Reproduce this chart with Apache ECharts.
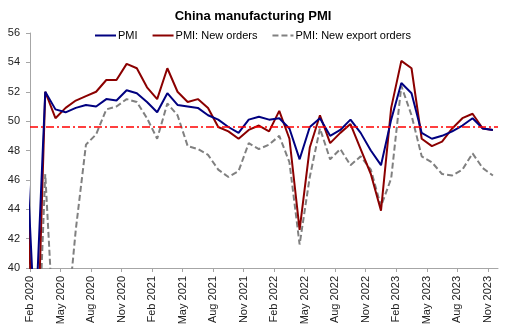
<!DOCTYPE html>
<html><head><meta charset="utf-8">
<script src="https://cdn.jsdelivr.net/npm/echarts@6/dist/echarts.min.js"></script>
<style>html,body{margin:0;padding:0;background:#fff}#c{width:506px;height:334px}</style>
</head><body><div id="c"></div>
<script>
// Months from Jan 2020 to Nov 2023 (Jan 2020 lies just left of the plotted range and is clipped)
const months = ['Jan 2020','Feb 2020','Mar 2020','Apr 2020','May 2020','Jun 2020','Jul 2020','Aug 2020','Sep 2020','Oct 2020','Nov 2020','Dec 2020',
'Jan 2021','Feb 2021','Mar 2021','Apr 2021','May 2021','Jun 2021','Jul 2021','Aug 2021','Sep 2021','Oct 2021','Nov 2021','Dec 2021',
'Jan 2022','Feb 2022','Mar 2022','Apr 2022','May 2022','Jun 2022','Jul 2022','Aug 2022','Sep 2022','Oct 2022','Nov 2022','Dec 2022',
'Jan 2023','Feb 2023','Mar 2023','Apr 2023','May 2023','Jun 2023','Jul 2023','Aug 2023','Sep 2023','Oct 2023','Nov 2023'];
const pmi = [50.0,35.7,52.0,50.8,50.6,50.9,51.1,51.0,51.5,51.4,52.1,51.9,
51.3,50.6,51.9,51.1,51.0,50.9,50.4,50.1,49.6,49.2,50.1,50.3,
50.1,50.2,49.5,47.4,49.6,50.2,49.0,49.4,50.1,49.2,48.0,47.0,
50.1,52.6,51.9,49.2,48.8,49.0,49.3,49.7,50.2,49.5,49.4];
const newOrders = [51.4,29.3,52.0,50.2,50.9,51.4,51.7,52.0,52.8,52.8,53.9,53.6,
52.3,51.5,53.6,52.0,51.3,51.5,50.9,49.6,49.3,48.8,49.4,49.7,
49.3,50.7,48.8,42.6,48.2,50.4,48.5,49.2,49.8,48.1,46.4,43.9,
50.9,54.1,53.6,48.8,48.3,48.6,49.5,50.2,50.5,49.5,49.4];
const exportOrders = [48.7,28.7,46.4,33.5,35.3,42.6,48.4,49.1,50.8,51.0,51.5,51.3,
50.2,48.8,51.2,50.4,48.3,48.1,47.7,46.7,46.2,46.6,48.5,48.1,
48.4,49.0,47.2,41.6,46.2,49.5,47.4,48.1,47.0,47.6,46.7,44.2,
46.1,52.4,50.4,47.6,47.2,46.4,46.3,46.7,47.8,46.8,46.3];
const refLevel = 49.65;
const yTicks = [40,42,44,46,48,50,52,54,56];
const firstLabelIdx = 1; // Feb 2020
const labelStep = 3;

// x position: month offset from Feb 2020 start, points at mid-month
const toPts = arr => arr.map((v, i) => [i - firstLabelIdx + 0.5, v]);
const nPlot = months.length - firstLabelIdx;
const tickVals = [];
for (let k = 0; k < nPlot; k += labelStep) tickVals.push(k);

const chart = echarts.init(document.getElementById('c'), null, {renderer: 'canvas'});
const font = 'Arial, "Liberation Sans", sans-serif';
chart.setOption({
  animation: false,
  title: {text: 'China manufacturing PMI', left: 'center', top: 5,
    textStyle: {fontFamily: font, fontSize: 13, fontWeight: 'bold', color: '#000'}},
  legend: {top: 25, left: 'center', itemWidth: 21, itemHeight: 2, itemGap: 15,
    textStyle: {fontFamily: font, fontSize: 11, color: '#000', padding: [0,0,0,-3]},
    data: [
      {name: 'PMI', icon: 'rect'},
      {name: 'PMI: New orders', icon: 'rect'},
      {name: 'PMI: New export orders', icon: 'path://M0,0h6v2h-6z M9,0h6v2h-6z M18,0h3v2h-3z'}
    ]},
  grid: {left: 30, right: 8, top: 33, bottom: 66},
  xAxis: {type: 'value', min: 0, max: nPlot,
    axisLine: {show: true, lineStyle: {color: '#a6a6a6', width: 1}},
    axisTick: {show: true, length: 4, customValues: tickVals, lineStyle: {color: '#a6a6a6'}},
    axisLabel: {rotate: 90, margin: 8, fontFamily: font, fontSize: 11, color: '#222',
      customValues: tickVals,
      formatter: v => months[Math.round(v) + firstLabelIdx] || ''},
    splitLine: {show: false}},
  yAxis: {type: 'value', min: yTicks[0], max: yTicks[yTicks.length-1], interval: 2,
    axisLine: {show: true, lineStyle: {color: '#a6a6a6', width: 1}},
    axisTick: {show: true, length: 4, lineStyle: {color: '#a6a6a6'}},
    axisLabel: {margin: 10, fontFamily: font, fontSize: 11, color: '#222'},
    splitLine: {show: false}},
  series: [
    {name: 'PMI', type: 'line', data: toPts(pmi), symbol: 'none', clip: true, z: 4,
      lineStyle: {color: '#000080', width: 2}, itemStyle: {color: '#000080'},
      markLine: {silent: true, symbol: 'none', label: {show: false},
        lineStyle: {color: '#ff0000', width: 1.5, type: [8,3,2,3]},
        data: [{yAxis: refLevel}]}},
    {name: 'PMI: New orders', type: 'line', data: toPts(newOrders), symbol: 'none', clip: true, z: 3,
      lineStyle: {color: '#8b0000', width: 2}, itemStyle: {color: '#8b0000'}},
    {name: 'PMI: New export orders', type: 'line', data: toPts(exportOrders), symbol: 'none', clip: true, z: 2,
      lineStyle: {color: '#808080', width: 2, type: [6,3]}, itemStyle: {color: '#808080'}}
  ]
});
</script></body></html>
